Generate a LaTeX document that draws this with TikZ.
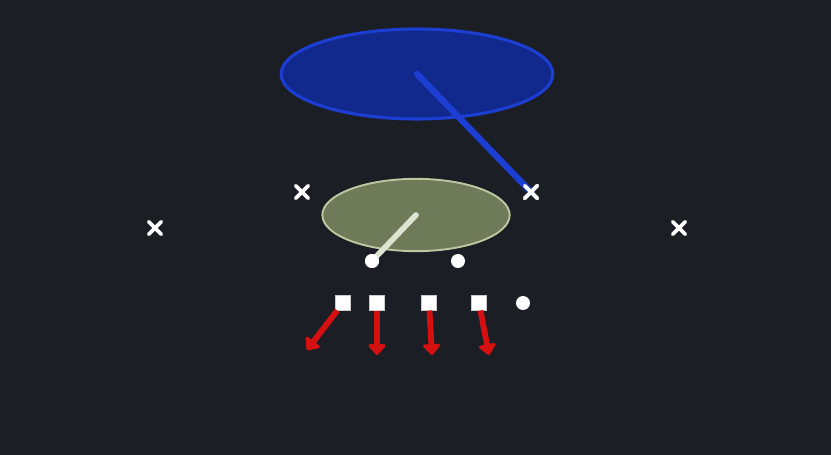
\documentclass[tikz,border=0pt]{standalone}
\usetikzlibrary{shapes.geometric,shapes.misc,arrows.meta}
\definecolor{bgdark}{RGB}{27,30,36}
\definecolor{zoneblue}{RGB}{17,40,140}
\definecolor{zoneblueline}{RGB}{28,62,210}
\definecolor{zonegreen}{RGB}{110,122,88}
\definecolor{zonegreenline}{RGB}{192,200,162}
\definecolor{routered}{RGB}{212,16,16}
\tikzset{
  defender/.style={cross out,draw=white,line width=3.2pt,line cap=round,minimum size=0.26cm,inner sep=0pt},
  player/.style={circle,fill=white,minimum size=0.42cm,inner sep=0pt},
  lineman/.style={rectangle,fill=white,draw=white!80!black,line width=0.3pt,minimum size=0.44cm,inner sep=0pt},
  route/.style={draw=routered,line width=5pt,-{Triangle[width=17pt,length=10pt,round]}}
}
\begin{document}
\begin{tikzpicture}[x=0.03cm,y=-0.03cm]%
\fill[bgdark] (0,0) rectangle (831,455);%
\useasboundingbox (0,0) rectangle (831,455);%
%
% zones
\node[ellipse,fill=zoneblue,draw=zoneblueline,line width=2.6pt,minimum width=8.15cm,minimum height=2.7cm] (deep) at (417,74) {};%
\node[ellipse,fill=zonegreen,draw=zonegreenline,line width=1.6pt,minimum width=5.62cm,minimum height=2.17cm] (flat) at (416,215) {};%
%
% defense
\node[defender] (dl) at (155,228) {};%
\node[defender] (lb) at (302,192) {};%
\node[defender] (rb) at (531,192) {};%
\node[defender] (dr) at (679,228) {};%
%
% offense
\node[player] (qa) at (372,261) {};%
\node[player] (qb) at (458,261) {};%
\node[player] (te) at (523,303) {};%
\node[lineman] (l1) at (343,303) {};%
\node[lineman] (l2) at (377,303) {};%
\node[lineman] (l3) at (429,303) {};%
\node[lineman] (l4) at (479,303) {};%
%
% assignments
\draw[zoneblueline,line width=5.4pt,line cap=round] (deep.center) -- (rb.center);%
\node[defender] at (rb) {};%
\draw[zonegreenline!50!white,line width=4.8pt,line cap=round] (flat.center) -- (qa.center);%
\node[player] at (qa) {};%
%
\coordinate (t1) at (307,350);%
\coordinate (t2) at (377,355);%
\coordinate (t3) at (432,355);%
\coordinate (t4) at (489,355);%
\draw[route] (l1) -- (t1);%
\draw[route] (l2) -- (t2);%
\draw[route] (l3) -- (t3);%
\draw[route] (l4) -- (t4);%
%
\end{tikzpicture}
\end{document}
